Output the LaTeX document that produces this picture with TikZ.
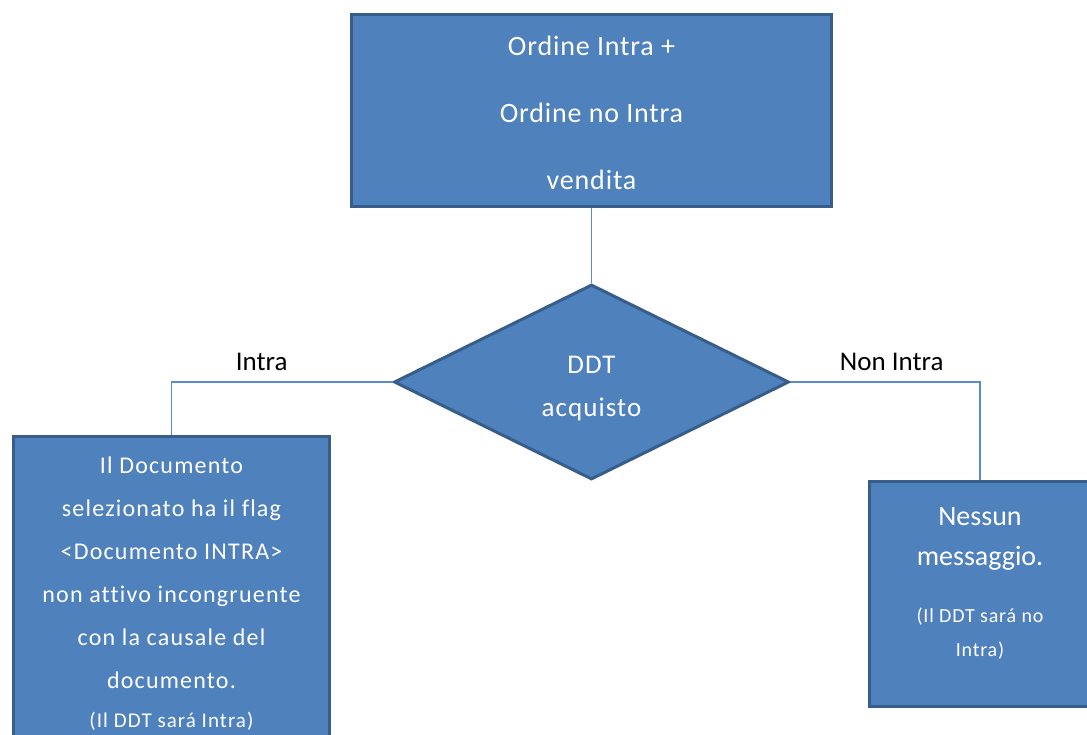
\documentclass[tikz,border=0pt]{standalone}
\usepackage{fontspec}
\setmainfont[Ligatures=CommonOff]{Carlito}
\usetikzlibrary{shapes.geometric}
\definecolor{boxfill}{HTML}{4F81BD}
\definecolor{boxline}{HTML}{385D8A}
\definecolor{wire}{HTML}{5A8CCB}
\begin{document}
\begin{tikzpicture}[x=1pt,y=-1pt,
  box/.style={draw=boxline, line width=3pt, fill=boxfill, inner sep=0pt, text=white, align=center},
  wtext/.style={text=white, align=center, inner sep=0pt},
  conn/.style={draw=wire, line width=1.8pt},
  lab/.style={text=black, inner sep=0pt, font=\fontsize{27}{32}\selectfont}]
\clip (0,0) rectangle (1087,735);
\fill[white] (0,0) rectangle (1087,735);
\node[box, minimum width=480, minimum height=192] (top) at (591.5,110.5) {};
\node[wtext, font=\fontsize{28}{67}\selectfont\addfontfeature{LetterSpace=3}] (toptext) at (591.5,113)
  {Ordine Intra +\\Ordine no Intra\\vendita};
\node[box, diamond, minimum width=395, minimum height=195] (d) at (591.5,382) {};
\node[wtext, font=\fontsize{27}{43}\selectfont\addfontfeature{LetterSpace=4}] (dtext) at (591.5,389)
  {DDT\\acquisto};
\node[box, minimum width=316, minimum height=305] (left) at (171.5,589) {};
\node[wtext, font=\fontsize{24}{43}\selectfont\addfontfeature{LetterSpace=5}] (lefttext) at (171.5,594)
  {Il Documento\\selezionato ha il flag\\<Documento INTRA>\\non attivo incongruente\\con la causale del\\documento.\\[-4pt]{\fontsize{21}{25}\selectfont (Il DDT sará Intra)}};
\node[box, minimum width=221, minimum height=225] (right) at (980,594) {};
\node[wtext, font=\fontsize{28}{40}\selectfont] (righttext) at (980,583)
  {Nessun\\messaggio.\\[17pt]{\fontsize{20}{31}\selectfont\addfontfeature{LetterSpace=4} (Il DDT sará no}\\[-6pt]{\fontsize{20}{31}\selectfont\addfontfeature{LetterSpace=4} Intra)}};
\draw[conn] (top.south) -- (d.north);
\draw[conn] (d.west) -| node[lab, pos=0.296, anchor=south, yshift=10pt] (lintra) {Intra} (left.north);
\draw[conn] (d.east) -| node[lab, pos=0.267, anchor=south, yshift=10pt] (lnon) {Non Intra} (right.north);
\end{tikzpicture}
\end{document}
